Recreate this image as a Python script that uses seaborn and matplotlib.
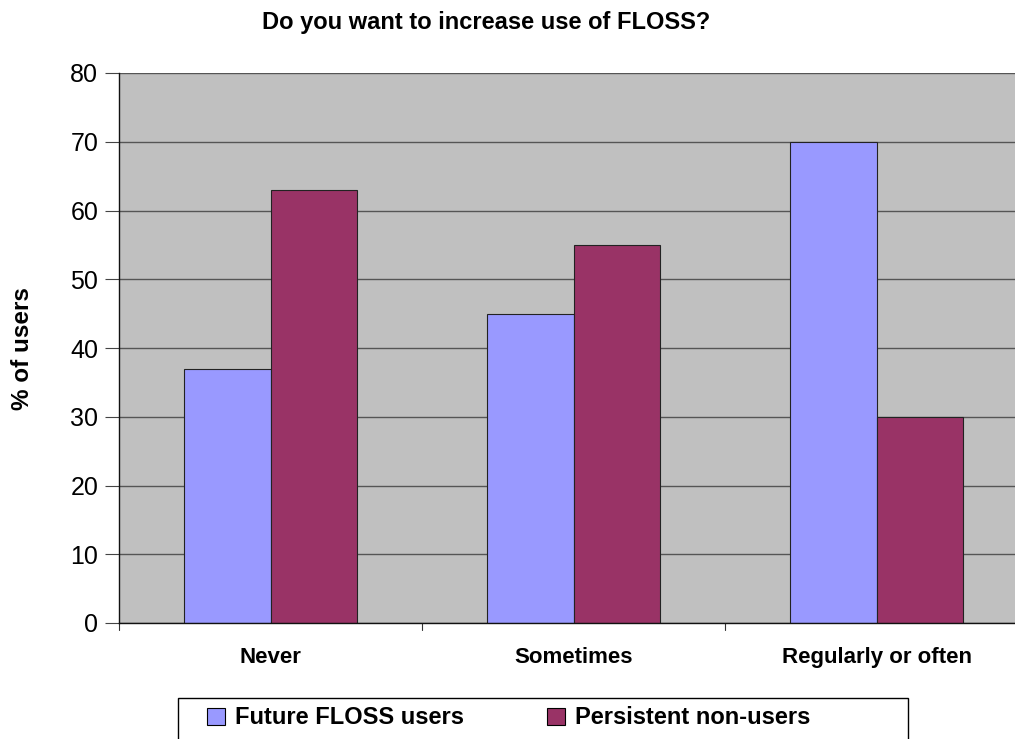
import matplotlib
matplotlib.use("Agg")
import matplotlib.pyplot as plt
import seaborn as sns
import pandas as pd
from matplotlib.patches import Rectangle
from matplotlib.transforms import Bbox, TransformedBbox

categories = ["Never", "Sometimes", "Regularly or often"]
series_names = ["Future FLOSS users", "Persistent non-users"]
future_users = [37, 45, 70]
non_users = [63, 55, 30]
yticks = [0, 10, 20, 30, 40, 50, 60, 70, 80]

df = pd.DataFrame({
    "category": categories * 2,
    "series": [series_names[0]] * 3 + [series_names[1]] * 3,
    "value": future_users + non_users,
})

sns.set_theme(style="white")
plt.rcParams['font.family'] = ['Liberation Sans', 'DejaVu Sans']
plt.rcParams['text.color'] = 'black'
plt.rcParams['xtick.color'] = 'black'
plt.rcParams['ytick.color'] = 'black'
plt.rcParams['axes.labelcolor'] = 'black'

fig = plt.figure(figsize=(10.15, 7.39), dpi=100)
ax = fig.add_axes([119 / 1015, 1 - 623 / 739, 909 / 1015, 550 / 739])
ax.set_facecolor("#C0C0C0")

sns.barplot(data=df, x="category", y="value", hue="series", order=categories,
            hue_order=series_names, palette=["#9999FF", "#993366"], width=0.57,
            edgecolor="#222222", linewidth=0.8, saturation=1, ax=ax, legend=True)

ax.set_xlim(-0.5, 2.5)
ax.set_ylim(0, 80)
ax.set_yticks(yticks)
ax.set_yticklabels([str(t) for t in yticks], fontsize=18)
ax.grid(axis="y", color="#555555", linewidth=1.0)
ax.set_axisbelow(True)
ax.tick_params(axis="y", direction="out", length=10, width=0.8, color="#444444", pad=5, left=True)
ax.set_xticks([0, 1, 2])
ax.set_xticklabels(categories, fontsize=16, fontweight="bold")
ax.tick_params(axis="x", length=0, pad=17)
for x in [-0.5, 0.5, 1.5]:
    ax.plot([x, x], [0, -1.0], color="#333333", linewidth=0.8, clip_on=False)

for s in ["top", "right"]:
    ax.spines[s].set_visible(False)
ax.spines["left"].set_color("#111111")
ax.spines["left"].set_linewidth(1.0)
ax.spines["bottom"].set_color("#111111")
ax.spines["bottom"].set_linewidth(1.0)
ax.set_xlabel("")
ax.set_ylabel("")

fig.text(486 / 1015, 1 - 22 / 739, "Do you want to increase use of FLOSS?",
         ha="center", va="center", fontsize=17, fontweight="bold")

lab = fig.text(23 / 1015, 1 - 410 / 739, "% of users", rotation=90,
               ha="center", va="bottom", fontsize=17.5, fontweight="bold")
lab.set_clip_on(True)
lab.set_clip_box(TransformedBbox(Bbox([[0, 0], [1, 1 - 283 / 739]]), fig.transFigure))

# legend box
box = Rectangle((178 / 1015, 1 - 760 / 739), 730 / 1015, 62 / 739,
                transform=fig.transFigure, facecolor="white", edgecolor="black",
                linewidth=1.0, zorder=-1)
fig.patches.append(box)

leg = ax.legend(loc="center left", bbox_to_anchor=(207 / 1015, 1 - 718 / 739),
                bbox_transform=fig.transFigure, ncol=2, frameon=False,
                prop={"weight": "bold", "size": 17}, handlelength=0.75,
                handleheight=0.75, handletextpad=0.45, columnspacing=3.5,
                borderpad=0, borderaxespad=0)
for h in leg.legend_handles:
    h.set_edgecolor("#000000")
    h.set_linewidth(0.8)

fig.savefig("out.png", dpi=100)
